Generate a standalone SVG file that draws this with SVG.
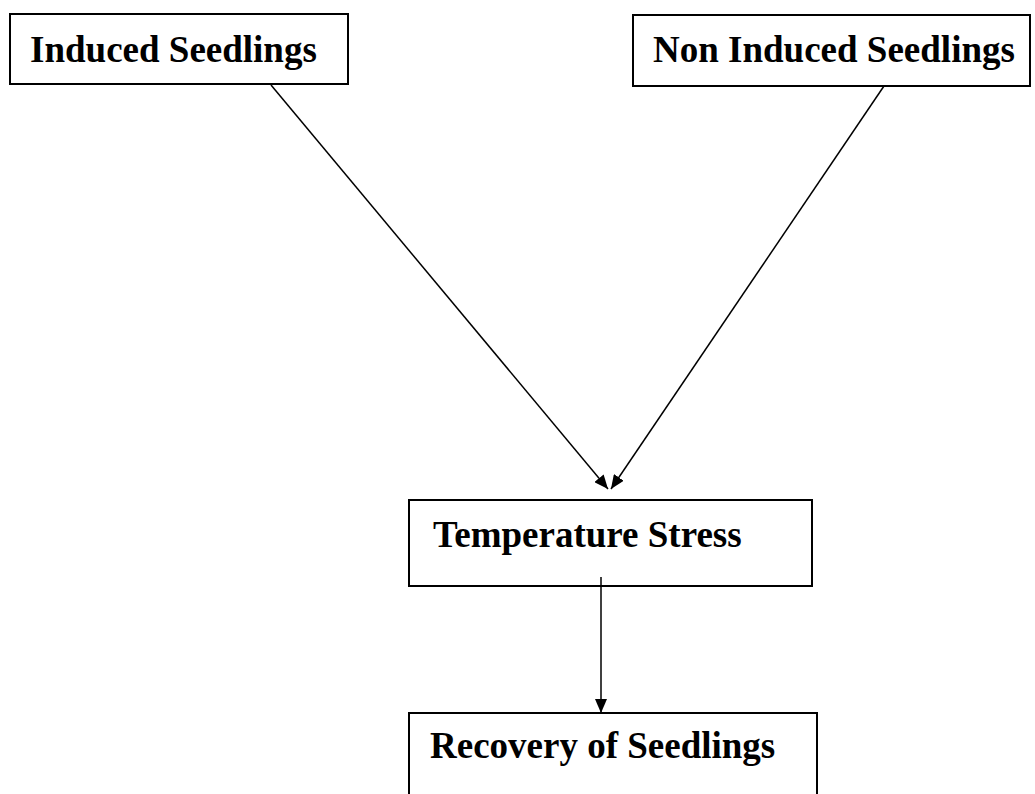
<svg xmlns="http://www.w3.org/2000/svg" width="1035" height="794" viewBox="0 0 1035 794">
<style>
.box{fill:#fff;stroke:#000;stroke-width:2}
.lbl{font-family:"Liberation Serif","Times New Roman",serif;font-weight:bold;font-size:37px;fill:#000}
.conn{stroke:#000;stroke-width:1.5;fill:none}
</style>
<defs>
<marker id="arr" viewBox="0 0 14 12" refX="14" refY="6" markerWidth="14" markerHeight="12" markerUnits="userSpaceOnUse" orient="auto">
<path d="M0,0 L14,6 L0,12 z" fill="#000"/>
</marker>
</defs>
<rect width="1035" height="794" fill="#fff"/>
<g id="induced">
<rect class="box" x="10" y="14" width="338" height="70"/>
<text class="lbl" x="30" y="62">Induced Seedlings</text>
</g>
<g id="noninduced">
<rect class="box" x="633" y="15" width="397" height="71"/>
<text class="lbl" x="653" y="62">Non Induced Seedlings</text>
</g>
<g id="stress">
<rect class="box" x="409" y="500" width="403" height="86"/>
<text class="lbl" x="433" y="547">Temperature Stress</text>
</g>
<g id="recovery">
<rect class="box" x="409" y="713" width="408" height="100"/>
<text class="lbl" x="430" y="758">Recovery of Seedlings</text>
</g>
<g id="connectors">
<line class="conn" x1="271" y1="85" x2="608" y2="489" marker-end="url(#arr)"/>
<line class="conn" x1="884" y1="86" x2="611" y2="489" marker-end="url(#arr)"/>
<line class="conn" x1="601" y1="577" x2="601" y2="713" marker-end="url(#arr)"/>
</g>
</svg>
